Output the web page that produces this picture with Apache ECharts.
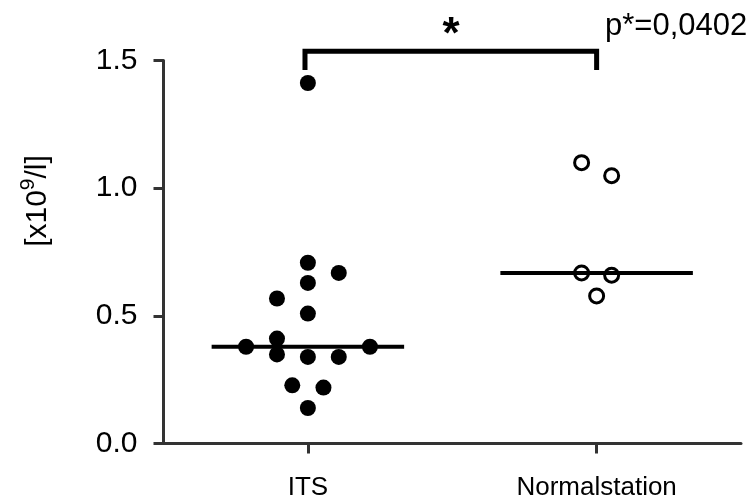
<!DOCTYPE html>
<html>
<head>
<meta charset="utf-8">
<script src="https://cdn.jsdelivr.net/npm/echarts@6/dist/echarts.min.js"></script>
<style>
  html, body { margin: 0; padding: 0; background: #fff; }
  #chart { width: 750px; height: 500px; }
</style>
</head>
<body>
<div id="chart"></div>
<script>
// groups on the x axis (placed at x = 1 and x = 2)
const groups = ['ITS', 'Normalstation'];
const groupPos = [1, 2];

// ITS (filled dots): x = group position + jitter, y = value
const itsX = [1.000, 1.000, 1.107, 1.000, 0.893, 1.000, 0.893, 0.786, 1.215, 0.893, 1.000, 1.107, 0.946, 1.054, 1.000];
const itsY = [1.412, 0.708, 0.668, 0.629, 0.568, 0.509, 0.411, 0.379, 0.379, 0.349, 0.339, 0.339, 0.228, 0.219, 0.139];

// Normalstation (open circles)
const normX = [1.948, 2.052, 1.948, 2.052, 2.000];
const normY = [1.100, 1.049, 0.668, 0.659, 0.578];

// median per group
const medians = [0.379, 0.668];

// y ticks
const yTicks = [0, 0.5, 1.0, 1.5];

// significance bracket (data coords) and text
const bracketX = [0.99, 0.99, 2.0, 2.0];
const bracketY = [1.463, 1.536, 1.536, 1.463];
const pText = 'p*=0,0402';

// y axis name pieces: base, superscript, rest
const yName = ['[x10', '9', '/l]'];

const FONT = '"Liberation Sans", Arial, sans-serif';
const AXIS_COLOR = '#333';

const chart = echarts.init(document.getElementById('chart'));

const medianSeries = groupPos.map((p, i) => ({
  type: 'line',
  data: [[p - 1 / 3, medians[i]], [p + 1 / 3, medians[i]]],
  symbol: 'none',
  lineStyle: { color: '#000', width: 4, cap: 'butt' },
  z: 5
}));

// measure the y name pieces so the superscript sits right after "[x10"
const ctx = document.createElement('canvas').getContext('2d');
const measure = (t, size) => { ctx.font = size + 'px ' + FONT; return ctx.measureText(t).width; };
const nameSizes = [30, 21, 30];
const nameW = yName.map((t, i) => measure(t, nameSizes[i]));
const totalW = nameW.reduce((a, b) => a + b, 0);
let cursor = -totalW / 2;
const nameParts = yName.map((t, i) => {
  const el = {
    type: 'text',
    x: cursor,
    y: i === 1 ? -10 : 0,
    style: {
      text: t,
      fontSize: nameSizes[i],
      fontFamily: FONT,
      fill: '#000',
      textAlign: 'left', align: 'left',
      textVerticalAlign: 'middle', verticalAlign: 'middle'
    }
  };
  cursor += nameW[i];
  return el;
});

chart.setOption({
  animation: false,
  grid: { left: 163.5, right: 9, top: 60.5, bottom: 56.5, outerBoundsMode: 'none' },
  xAxis: {
    type: 'value',
    min: 0.5,
    max: 2.5,
    splitLine: { show: false },
    axisLine: { show: true, lineStyle: { color: AXIS_COLOR, width: 3 } },
    axisTick: { show: true, customValues: groupPos, length: 10, lineStyle: { color: AXIS_COLOR, width: 3 } },
    axisLabel: {
      customValues: groupPos,
      formatter: v => groups[groupPos.indexOf(v)] || '',
      fontSize: 26,
      fontFamily: FONT,
      color: '#000',
      margin: 31
    }
  },
  yAxis: {
    type: 'value',
    min: yTicks[0],
    max: yTicks[yTicks.length - 1],
    interval: 0.5,
    splitLine: { show: false },
    axisLine: { show: true, lineStyle: { color: AXIS_COLOR, width: 3 } },
    axisTick: { show: true, length: 10, lineStyle: { color: AXIS_COLOR, width: 3 } },
    axisLabel: {
      formatter: v => v.toFixed(1),
      fontSize: 30,
      fontFamily: FONT,
      color: '#000',
      margin: 26
    }
  },
  series: [
    {
      type: 'scatter',
      data: itsX.map((x, i) => [x, itsY[i]]),
      symbolSize: 16,
      itemStyle: { color: '#000', opacity: 1 }
    },
    {
      type: 'scatter',
      data: normX.map((x, i) => [x, normY[i]]),
      symbolSize: 14,
      itemStyle: { color: '#fff', borderColor: '#000', borderWidth: 3, opacity: 1 }
    },
    ...medianSeries,
    {
      // bracket above the groups
      type: 'line',
      data: bracketX.map((x, i) => [x, bracketY[i]]),
      symbol: 'none',
      clip: false,
      lineStyle: { color: '#000', width: 5, cap: 'butt', join: 'miter' },
      z: 5
    }
  ],
  graphic: [
    {
      type: 'text',
      x: 451,
      y: 36,
      style: {
        text: '*',
        fontSize: 44,
        fontWeight: 'bold',
        fontFamily: FONT,
        fill: '#000',
        textAlign: 'center', align: 'center',
        textVerticalAlign: 'middle', verticalAlign: 'middle'
      }
    },
    {
      type: 'text',
      x: 605,
      y: 26,
      style: {
        text: pText,
        fontSize: 31,
        fontFamily: FONT,
        fill: '#000',
        textAlign: 'left', align: 'left',
        textVerticalAlign: 'middle', verticalAlign: 'middle'
      }
    },
    {
      // y axis name, rotated
      type: 'group',
      x: 38,
      y: 201,
      rotation: Math.PI / 2,
      children: nameParts
    }
  ]
});
</script>
</body>
</html>
